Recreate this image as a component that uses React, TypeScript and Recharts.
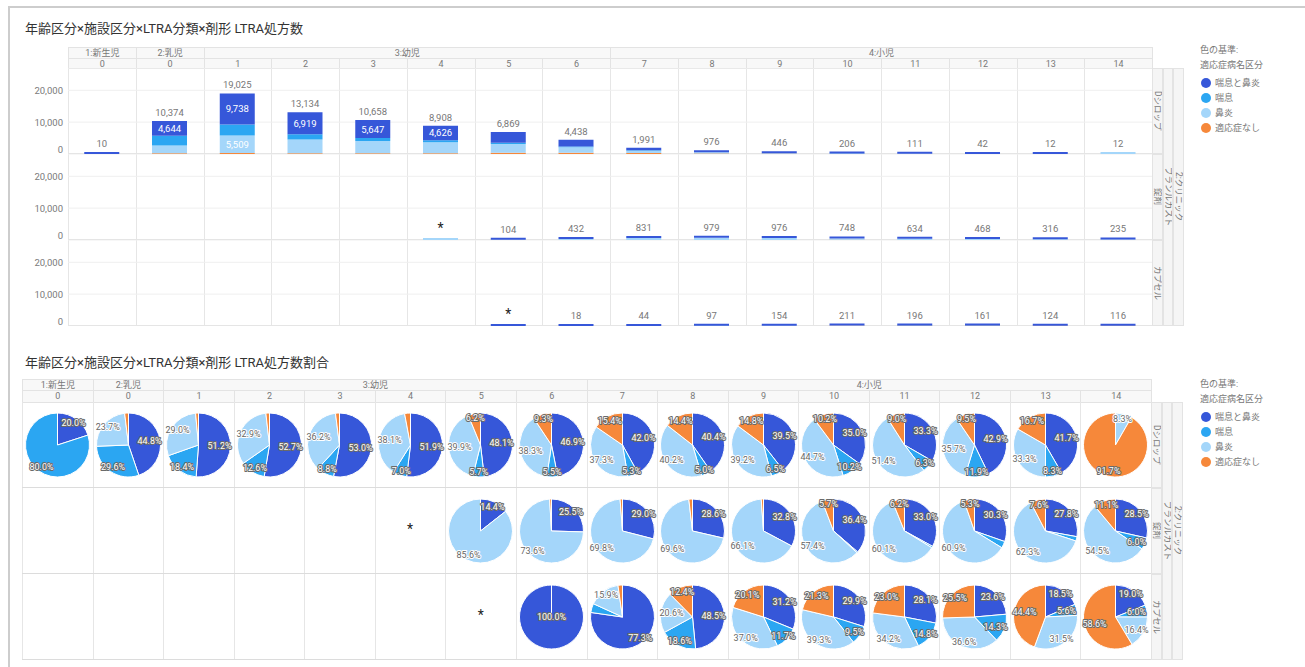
import React from 'react';
import { BarChart, Bar, XAxis, YAxis, CartesianGrid, LabelList, PieChart, Pie, Cell } from 'recharts';

const FONT = "Roboto, 'Noto Sans CJK JP', sans-serif";

const AGE_GROUPS = ['1:新生児', '2:乳児', '3:幼児', '3:幼児', '3:幼児', '3:幼児', '3:幼児', '3:幼児',
  '4:小児', '4:小児', '4:小児', '4:小児', '4:小児', '4:小児', '4:小児', '4:小児'];
const AGES = ['0', '0', '1', '2', '3', '4', '5', '6', '7', '8', '9', '10', '11', '12', '13', '14'];
const FORMS = ['Dシロップ', '錠剤', 'カプセル'];
const DRUG = 'ブランルカスト';
const FACILITY = '2:クリニック';
const SERIES = ['喘息と鼻炎', '喘息', '鼻炎', '適応症なし'];
const KEYS = ['both', 'asthma', 'rhinitis', 'none'];
const COLORS = ['#3657d9', '#2ba6f2', '#a4d6fa', '#f6883a'];

// Dシロップ
const syrupBoth = [2, 4644, 9738, 6919, 5647, 4626, 3307, 2081, 836, 394, 176, 72, 37, 18, 5, 0];
const syrupAsthma = [8, 3071, 3501, 1655, 938, 624, 393, 244, 106, 49, 29, 21, 7, 5, 1, 0];
const syrupRhinitis = [0, 2459, 5509, 4321, 3858, 3394, 2743, 1700, 742, 392, 175, 92, 57, 15, 4, 1];
const syrupNone = [0, 200, 277, 239, 215, 264, 426, 413, 307, 141, 66, 21, 10, 4, 2, 11];

// 錠剤 (null = no prescriptions)
const N = null;
const tabletBoth = [N, N, N, N, N, 0, 15, 110, 241, 280, 320, 272, 209, 142, 88, 67];
const tabletAsthma = [N, N, N, N, N, 0, 0, 0, 0, 0, 0, 4, 5, 16, 7, 14];
const tabletRhinitis = [N, N, N, N, N, 5, 89, 318, 580, 681, 645, 429, 381, 285, 197, 128];
const tabletNone = [N, N, N, N, N, 0, 0, 4, 10, 18, 11, 43, 39, 25, 24, 26];

// カプセル
const capsuleBoth = [N, N, N, N, N, N, 5, 18, 34, 47, 48, 63, 55, 38, 23, 22];
const capsuleAsthma = [N, N, N, N, N, N, 0, 0, 2, 18, 18, 20, 29, 23, 7, 7];
const capsuleRhinitis = [N, N, N, N, N, N, 0, 0, 7, 20, 57, 83, 67, 59, 39, 19];
const capsuleNone = [N, N, N, N, N, N, 0, 0, 1, 12, 31, 45, 45, 41, 55, 68];

// cells shown as "*" (small counts masked)
const tabletMasked = [5];
const capsuleMasked = [6];
const syrupMasked: number[] = [];

const FORM_VALUES = [
  [syrupBoth, syrupAsthma, syrupRhinitis, syrupNone],
  [tabletBoth, tabletAsthma, tabletRhinitis, tabletNone],
  [capsuleBoth, capsuleAsthma, capsuleRhinitis, capsuleNone],
];
const FORM_MASKED = [syrupMasked, tabletMasked, capsuleMasked];

const TOP = { left: 68, colW: 67.75, head: 47, rows: [68, 154, 240], rowH: 86 };
const BOT = { left: 22, colW: 70.5625, head: 379, rows: [402, 488, 574], rowH: 86 };

const hasData = (f: number, i: number) => FORM_VALUES[f].some((v) => v[i] != null);

function buildRows(f: number) {
  const vals = FORM_VALUES[f];
  return AGES.map((age, i) => {
    const row: any = { col: i, age };
    KEYS.forEach((k, s) => (row[k] = vals[s][i]));
    const total = vals.reduce((a, v) => a + (v[i] ?? 0), 0);
    row.totalLabel = !hasData(f, i) ? null : FORM_MASKED[f].includes(i) ? '*' : total.toLocaleString('en-US');
    // topmost non-empty segment of the stack carries the total label
    row.top = vals.findIndex((v) => (v[i] ?? 0) > 0);
    return row;
  });
}

const YTick = (p: any) => (
  <text x={p.x} y={p.payload.value === 0 ? p.y - 5 : p.y} dominantBaseline="central" textAnchor="end"
    fontSize={9.5} fill="#7a7a7a" fontFamily={FONT}>
    {p.payload.value.toLocaleString('en-US')}
  </text>
);

const TotalLabel = (p: any) => {
  if (p.value == null) return null;
  const vb = p.viewBox || p;
  const star = p.value === '*';
  return (
    <text x={vb.x + vb.width / 2} y={vb.y - 5} textAnchor="middle" fontSize={star ? 14 : 9.5}
      fill={star ? '#222' : '#777'} fontFamily={FONT}>
      {p.value}
    </text>
  );
};

const InnerLabel = (p: any) => {
  if (p.value == null || Number(p.value) < 4500) return null;
  const vb = p.viewBox || p;
  return (
    <text x={vb.x + vb.width / 2} y={vb.y + vb.height / 2} dominantBaseline="central" textAnchor="middle"
      fontSize={9.5} fill="#fff" fontFamily={FONT}>
      {Number(p.value).toLocaleString('en-US')}
    </text>
  );
};

function BarRow({ f }: { f: number }) {
  const data = buildRows(f);
  return (
    <div style={{ position: 'absolute', left: TOP.left - 60, top: TOP.rows[f] }}>
      <BarChart width={60 + TOP.colW * 16} height={TOP.rowH} data={data}
        margin={{ top: 0, right: 0, bottom: 0, left: 0 }} barCategoryGap="24%">
        <CartesianGrid vertical={false} stroke="#efefef" />
        <XAxis dataKey="col" hide />
        <YAxis width={60} domain={[0, 27000]} ticks={[0, 10000, 20000]} interval={0} tickLine={false}
          axisLine={false} tickSize={0} tickMargin={5} tick={YTick} allowDataOverflow />
        {[3, 2, 1, 0].map((s) => (
          <Bar key={s} dataKey={KEYS[s]} stackId="a" fill={COLORS[s]} isAnimationActive={false}
            minPointSize={(v: any, i: number) => (data[i] && data[i].top === s ? 2 : 0)}>
            <LabelList dataKey={KEYS[s]} content={InnerLabel} />
            <LabelList dataKey={(d: any) => (d.top === s ? d.totalLabel : null)} content={TotalLabel} />
          </Bar>
        ))}
      </BarChart>
    </div>
  );
}

const RAD = Math.PI / 180;
const pieLabel = (p: any) => {
  const { cx, cy, midAngle, outerRadius, percent } = p;
  if (percent < 0.05) return null;
  const s = p.payload && p.payload.s != null ? p.payload.s : p.s;
  let x = cx;
  let y = cy;
  if (percent < 0.999) {
    const r = outerRadius * 0.85;
    x = cx + r * Math.cos(-midAngle * RAD);
    y = cy + r * Math.sin(-midAngle * RAD);
    const lim = outerRadius - 11;
    x = Math.max(cx - lim, Math.min(cx + lim, x));
  }
  const light = s === 2;
  return (
    <text x={x} y={y} dominantBaseline="central" textAnchor="middle" fontSize={9} fontFamily={FONT}
      fill={light ? '#666' : '#fff'} stroke={light ? '#fff' : '#6a6a6a'} strokeWidth={2}
      paintOrder="stroke" strokeLinejoin="round">
      {(percent * 100).toFixed(1)}%
    </text>
  );
};

function PieCell({ f, i }: { f: number; i: number }) {
  const left = BOT.left + i * BOT.colW;
  const top = BOT.rows[f];
  if (FORM_MASKED[f].includes(i)) {
    return (
      <div style={{ position: 'absolute', left, top: top + 33, width: BOT.colW, textAlign: 'center',
        fontSize: 14, color: '#222', fontFamily: FONT }}>*</div>
    );
  }
  const vals = FORM_VALUES[f];
  const data = SERIES.map((name, s) => ({ name, s, value: vals[s][i] ?? 0 })).filter((d) => d.value > 0);
  return (
    <div style={{ position: 'absolute', left, top }}>
      <PieChart width={71} height={BOT.rowH}>
        <Pie data={data} dataKey="value" nameKey="name" cx="50%" cy="50%" outerRadius={32}
          startAngle={90} endAngle={-270} stroke="#fff" strokeWidth={1} labelLine={false}
          label={pieLabel} isAnimationActive={false}>
          {data.map((d) => <Cell key={d.s} fill={COLORS[d.s]} />)}
        </Pie>
      </PieChart>
    </div>
  );
}

function groupRuns() {
  const runs: { label: string; start: number; span: number }[] = [];
  AGE_GROUPS.forEach((g, i) => {
    const last = runs[runs.length - 1];
    if (last && last.label === g) last.span++;
    else runs.push({ label: g, start: i, span: 1 });
  });
  return runs;
}

const LINE = '1px solid #e3e3e3';

function VText({ text, left, top, width, height }: any) {
  return (
    <div style={{ position: 'absolute', left, top, width, height, boxSizing: 'border-box', border: LINE,
      background: '#f5f5f5', display: 'flex', alignItems: 'center', justifyContent: 'center', overflow: 'hidden' }}>
      <span style={{ writingMode: 'vertical-rl', textOrientation: 'sideways', fontSize: 8.5, color: '#777',
        whiteSpace: 'nowrap', lineHeight: '9px' }}>{text}</span>
    </div>
  );
}

function Grid({ g }: { g: typeof TOP }) {
  const width = g.colW * 16;
  const bottom = g.rows[2] + g.rowH;
  const hdr: any = { position: 'absolute', boxSizing: 'border-box', background: '#f8f8f8', borderLeft: LINE,
    borderTop: LINE, color: '#777', fontSize: 9, textAlign: 'center', whiteSpace: 'nowrap', overflow: 'hidden' };
  const x0 = g.left + width;
  return (
    <>
      {groupRuns().map((r) => (
        <div key={'g' + r.start} style={{ ...hdr, left: g.left + r.start * g.colW, top: g.head,
          width: r.span * g.colW, height: 11, lineHeight: '10px' }}>{r.label}</div>
      ))}
      {AGES.map((a, i) => (
        <div key={'a' + i} style={{ ...hdr, left: g.left + i * g.colW, top: g.head + 11, width: g.colW,
          height: g.rows[0] - g.head - 11, lineHeight: '10px' }}>{a}</div>
      ))}
      <div style={{ position: 'absolute', left: x0, top: g.head, height: g.rows[0] - g.head, borderLeft: LINE }} />
      <div style={{ position: 'absolute', left: g.left, top: g.rows[0], width, borderTop: LINE }} />
      {AGES.concat(['']).map((_, i) => (
        <div key={'v' + i} style={{ position: 'absolute', left: g.left + i * g.colW, top: g.rows[0],
          height: bottom - g.rows[0], borderLeft: '1px solid #e6e6e6' }} />
      ))}
      {g.rows.map((t, r) => (
        <div key={'h' + r} style={{ position: 'absolute', left: g.left, top: t + g.rowH - 1, width,
          borderTop: '1px solid #dcdcdc' }} />
      ))}
      {FORMS.map((name, r) => (
        <VText key={'s' + r} text={name} left={x0} top={g.rows[r]} width={11} height={g.rowH} />
      ))}
      <VText text={DRUG} left={x0 + 11} top={g.rows[0]} width={10} height={bottom - g.rows[0]} />
      <VText text={FACILITY} left={x0 + 21} top={g.rows[0]} width={11} height={bottom - g.rows[0]} />
    </>
  );
}

function Legend({ y }: { y: number }) {
  const txt: any = { position: 'absolute', left: 1200, fontSize: 9, color: '#777', whiteSpace: 'nowrap', lineHeight: '12px' };
  return (
    <>
      <div style={{ ...txt, top: y - 6 }}>色の基準:</div>
      <div style={{ ...txt, top: y + 9 }}>適応症病名区分</div>
      {SERIES.map((s, i) => (
        <React.Fragment key={s}>
          <div style={{ position: 'absolute', left: 1201, top: y + 28 + i * 15, width: 10, height: 10,
            borderRadius: 5, background: COLORS[i] }} />
          <div style={{ ...txt, left: 1215, top: y + 27 + i * 15 }}>{s}</div>
        </React.Fragment>
      ))}
    </>
  );
}

export default function App() {
  const title: any = { position: 'absolute', left: 25, fontSize: 13, color: '#333', lineHeight: '18px', whiteSpace: 'nowrap' };
  return (
    <div style={{ position: 'absolute', left: 0, top: 0, width: 1305, height: 667, background: '#fff',
      fontFamily: FONT, overflow: 'hidden' }}>
      <div style={{ position: 'absolute', left: 8, top: 6, width: 1297, height: 661,
        borderTop: '2px solid #cdcdcd', borderLeft: '2px solid #cdcdcd' }} />

      <div style={{ ...title, top: 20 }}>年齢区分×施設区分×LTRA分類×剤形 LTRA処方数</div>
      <Grid g={TOP} />
      {FORMS.map((_, f) => <BarRow key={f} f={f} />)}
      <Legend y={50} />

      <div style={{ ...title, top: 354 }}>年齢区分×施設区分×LTRA分類×剤形 LTRA処方数割合</div>
      <Grid g={BOT} />
      {FORMS.map((_, f) => AGES.map((_, i) => (hasData(f, i) ? <PieCell key={f + '-' + i} f={f} i={i} /> : null)))}
      <Legend y={384} />
    </div>
  );
}
